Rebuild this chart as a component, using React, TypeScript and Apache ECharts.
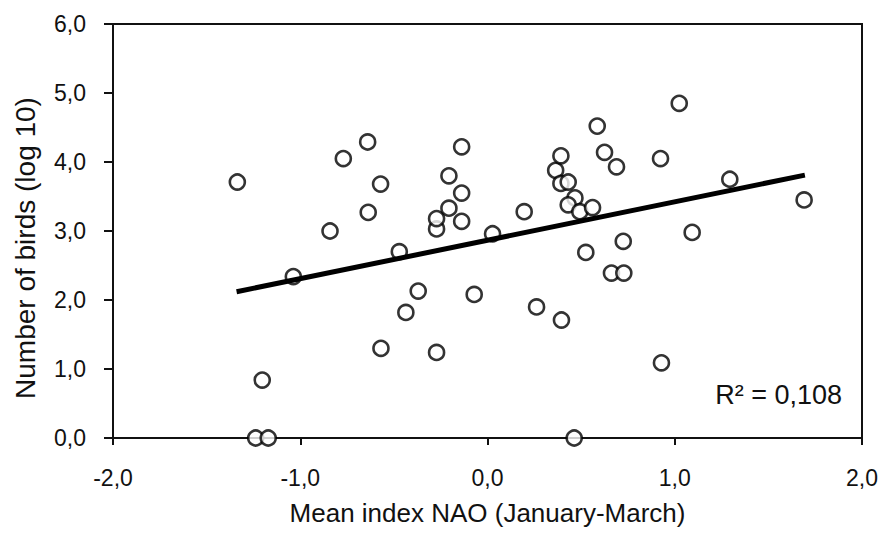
import React, { useEffect, useRef } from "react";
import * as echarts from "echarts";

const naoIndex: number[] = [
  -1.336, -1.203, -1.238, -1.171, -1.037, -0.841, -0.77, -0.64, -0.637, -0.571,
  -0.569, -0.471, -0.436, -0.37, -0.272, -0.272, -0.272, -0.206, -0.206, -0.138,
  -0.138, -0.138, -0.071, 0.027, 0.196, 0.262, 0.364, 0.392, 0.392, 0.431,
  0.467, 0.431, 0.493, 0.561, 0.395, 0.463, 0.525, 0.586, 0.625, 0.689,
  0.662, 0.728, 0.725, 0.924, 0.929, 1.024, 1.093, 1.294, 1.691,
];
const logBirds: number[] = [
  3.71, 0.84, 0, 0, 2.34, 3.0, 4.05, 4.29, 3.27, 3.68,
  1.3, 2.7, 1.82, 2.13, 1.24, 3.03, 3.18, 3.8, 3.33, 4.22,
  3.55, 3.14, 2.08, 2.96, 3.28, 1.9, 3.88, 4.09, 3.69, 3.71,
  3.48, 3.38, 3.28, 3.34, 1.71, 0, 2.69, 4.52, 4.14, 3.93,
  2.39, 2.39, 2.85, 4.05, 1.09, 4.85, 2.98, 3.75, 3.45,
];
const trendX: number[] = [-1.34, 1.695];
const trendY: number[] = [2.12, 3.81];
const xTicks: number[] = [-2, -1, 0, 1, 2];
const yTicks: number[] = [0, 1, 2, 3, 4, 5, 6];
const r2Label = "R² = 0,108";
const xTitle = "Mean index NAO (January-March)";
const yTitle = "Number of birds (log 10)";

const fmt = (v: number) => v.toFixed(1).replace(".", ",");
const FONT = "'Liberation Sans', Arial, sans-serif";
const INK = "#111";

export default function App() {
  const ref = useRef<HTMLDivElement>(null);
  useEffect(() => {
    if (!ref.current) return;
    const chart = echarts.init(ref.current, undefined, { renderer: "svg" });
    chart.setOption({
      animation: false,
      backgroundColor: "#ffffff",
      grid: {
        left: 113,
        right: 20,
        top: 24,
        bottom: 96,
        show: true,
        borderColor: INK,
        borderWidth: 2,
        backgroundColor: "transparent",
      },
      xAxis: {
        type: "value",
        min: xTicks[0],
        max: xTicks[xTicks.length - 1],
        interval: 1,
        axisLine: { onZero: false, lineStyle: { color: INK, width: 2 } },
        axisTick: { show: true, inside: false, length: 7, lineStyle: { color: INK, width: 2 } },
        splitLine: { show: false },
        axisLabel: {
          margin: 28,
          color: INK,
          fontSize: 23,
          fontFamily: FONT,
          showMinLabel: true,
          showMaxLabel: true,
          formatter: (v: number) => fmt(v),
        },
        name: xTitle,
        nameLocation: "middle",
        nameGap: 62,
        nameTextStyle: { color: INK, fontSize: 26, fontFamily: FONT },
      },
      yAxis: {
        type: "value",
        min: yTicks[0],
        max: yTicks[yTicks.length - 1],
        interval: 1,
        axisLine: { onZero: false, lineStyle: { color: INK, width: 2 } },
        axisTick: { show: true, inside: false, length: 9, lineStyle: { color: INK, width: 2 } },
        splitLine: { show: false },
        axisLabel: {
          margin: 27,
          color: INK,
          fontSize: 23,
          fontFamily: FONT,
          formatter: (v: number) => fmt(v),
        },
      },
      graphic: [
        {
          type: "text",
          x: 25,
          y: 248,
          rotation: Math.PI / 2,
          style: {
            text: yTitle,
            fill: INK,
            fontSize: 28,
            fontFamily: FONT,
            align: "center",
            verticalAlign: "middle",
          },
        },
        {
          type: "text",
          x: 842,
          y: 395,
          style: {
            text: r2Label,
            fill: INK,
            fontSize: 27,
            fontFamily: FONT,
            align: "right",
            verticalAlign: "middle",
          },
        },
      ],
      series: [
        {
          type: "scatter",
          data: naoIndex.map((x, i) => [x, logBirds[i]]),
          symbol: "circle",
          symbolSize: 15,
          itemStyle: { color: "#ffffff", borderColor: "#000", borderWidth: 2.6 },
          z: 2,
          clip: false,
        },
        {
          type: "line",
          data: trendX.map((x, i) => [x, trendY[i]]),
          showSymbol: false,
          symbol: "none",
          lineStyle: { color: "#000", width: 5 },
          z: 3,
        },
      ],
    });
    return () => chart.dispose();
  }, []);
  return (
    <div
      ref={ref}
      style={{ position: "absolute", left: 0, top: 0, width: 882, height: 534 }}
    />
  );
}
